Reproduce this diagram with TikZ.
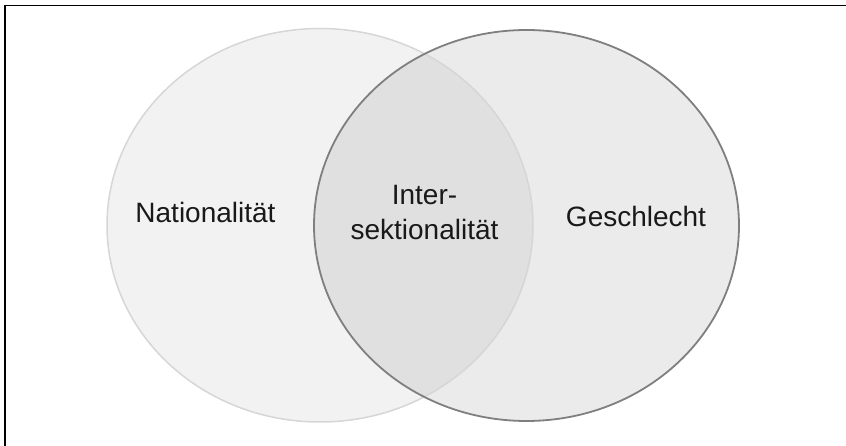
\documentclass[tikz,border=0pt]{standalone}
\usepackage{fontspec}
\setmainfont{Liberation Sans}
\usepackage{tikz}
\tikzset{>=latex}
\definecolor{natfill}{HTML}{F2F2F2}
\definecolor{natline}{HTML}{D6D6D6}
\definecolor{gesfill}{HTML}{EBEBEB}
\definecolor{gesline}{HTML}{7F7F7F}
\definecolor{schnitt}{HTML}{E0E0E0}
\tikzset{label/.style={inner sep=0pt,text=black!90,font=\fontsize{28}{35}\selectfont}}

\begin{document}
\begin{tikzpicture}[x=1pt,y=1pt]
			\useasboundingbox (0,0) rectangle (846,446);
			\draw[line width=1.5pt] (5,0)--(5,440.5)--(846,440.5);
			\fill[natfill] (320,220.75) ellipse (213 and 196.75);
			\fill[gesfill] (526.5,220.5) ellipse (212.5 and 195.5);
			\begin{scope}
				\clip (320,220.75) ellipse (213 and 196.75);
				\fill[schnitt] (526.5,220.5) ellipse (212.5 and 195.5);
			\end{scope}
			\draw[natline,line width=1.5pt] (320,220.75) ellipse (213 and 196.75);
			\draw[gesline,line width=1.8pt] (526.5,220.5) ellipse (212.5 and 195.5);
			\node[label,anchor=base] (nat) at (205.5,223) {Nationalität};
			\node[label,anchor=base] (ges) at (636,219) {Geschlecht};
			\node[label,align=center] (inter) at (424.5,233.5) {Inter-\\sektionalität};
		\end{tikzpicture}
\end{document}
